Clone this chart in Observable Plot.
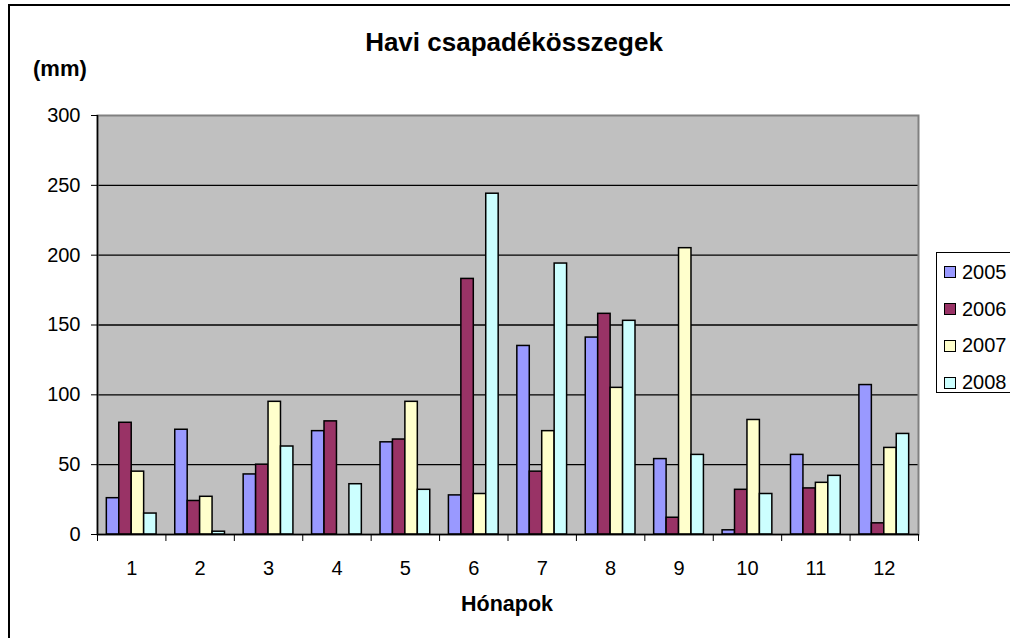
<!DOCTYPE html>
<html>
<head>
<meta charset="utf-8">
<script src="https://cdn.jsdelivr.net/npm/d3@7"></script>
<script src="https://cdn.jsdelivr.net/npm/@observablehq/plot@0.6"></script>
<style>
  html, body { margin: 0; padding: 0; background: #fff; }
  #wrap { position: relative; width: 1010px; height: 638px; overflow: hidden; background: #fff;
          font-family: "Liberation Sans", Arial, sans-serif; color: #000; }
  #border { position: absolute; left: 8px; top: 4px; width: 1100px; height: 700px;
            border-left: 2.5px solid #000; border-top: 2.5px solid #000; box-sizing: border-box; }
  #chart { position: absolute; left: 0; top: 0; }
  .lbl { position: absolute; white-space: nowrap; font-weight: bold; }
  #title { left: 314px; width: 400px; text-align: center; top: 28.5px; font-size: 26px; line-height: 26px; }
  #ylab { left: 33px; top: 57.5px; font-size: 22px; line-height: 22px; }
  #xlab { left: 307px; width: 400px; text-align: center; top: 593.5px; font-size: 21.5px; line-height: 21.5px; }
  #legend { position: absolute; left: 936px; top: 252px; width: 120px; height: 141px;
            border: 1px solid #000; box-sizing: border-box; background: #fff; padding-top: 1px; }
  .item { display: flex; align-items: center; height: 36.8px; font-size: 20px; }
  .sw { width: 12px; height: 12px; border: 1px solid #000; box-sizing: border-box; margin-left: 7px; margin-right: 6px; }
</style>
</head>
<body>
<div id="wrap">
  <div id="border"></div>
  <div id="chart"></div>
  <div class="lbl" id="title"></div>
  <div class="lbl" id="ylab"></div>
  <div class="lbl" id="xlab"></div>
  <div id="legend"></div>
</div>
<script>
// ---- data ----
const months = [1, 2, 3, 4, 5, 6, 7, 8, 9, 10, 11, 12];
const years = ["2005", "2006", "2007", "2008"];
const colors = ["#9999ff", "#993366", "#ffffcc", "#ccffff"];
const v2005 = [26, 75, 43, 74, 66, 28, 135, 141, 54, 3, 57, 107];
const v2006 = [80, 24, 50, 81, 68, 183, 45, 158, 12, 32, 33, 8];
const v2007 = [45, 27, 95, 0, 95, 29, 74, 105, 205, 82, 37, 62];
const v2008 = [15, 2, 63, 36, 32, 244, 194, 153, 57, 29, 42, 72];
const yTicks = [0, 50, 100, 150, 200, 250, 300];
const titleText = "Havi csapadékösszegek";
const yLabelText = "(mm)";
const xLabelText = "Hónapok";

const series = [v2005, v2006, v2007, v2008];
const gapWidth = 1.5; // Excel gap width 150% of a bar
const barW = 1 / (years.length + gapWidth);

const data = months.flatMap((m, mi) => years.map((yr, si) => {
  const x1 = m - 0.5 + barW * gapWidth / 2 + si * barW;
  return { month: m, year: yr, value: series[si][mi], x1, x2: x1 + barW };
})).filter(d => d.value > 0);

const boundaries = [months[0] - 0.5, ...months.map(m => m + 0.5)];
const gridTicks = yTicks.filter(t => t > 0 && t < 300);

const chart = Plot.plot({
  width: 1010,
  height: 638,
  marginLeft: 97,
  marginRight: 92,
  marginTop: 115,
  marginBottom: 104,
  x: { domain: [0.5, 12.5] },
  y: { domain: [0, 300] },
  color: { domain: years, range: colors },
  style: { fontFamily: '"Liberation Sans", Arial, sans-serif', fontSize: "20px", color: "#000", background: "transparent", overflow: "visible" },
  marks: [
    Plot.frame({ fill: "#c0c0c0" }),
    Plot.gridY(gridTicks, { stroke: "#000", strokeOpacity: 1, strokeWidth: 1.3 }),
    Plot.frame({ stroke: "#808080", strokeWidth: 2 }),
    Plot.rect(data, { x1: "x1", x2: "x2", y1: 0, y2: "value", fill: "year", stroke: "#000", strokeWidth: 1.5 }),
    Plot.ruleX([0.5], { stroke: "#000", strokeWidth: 1.5 }),
    Plot.ruleY([0], { stroke: "#000", strokeWidth: 1.5 }),
    Plot.axisY({ ticks: yTicks, tickSize: 6, tickPadding: 11, label: null, tickFormat: d => String(d) }),
    Plot.axisX({ ticks: boundaries, tickSize: 7, tickFormat: () => "", label: null }),
    Plot.axisX({ ticks: months, tickSize: 0, tickPadding: 26, label: null, tickFormat: d => String(d) })
  ]
});
document.getElementById("chart").appendChild(chart);
document.getElementById("title").textContent = titleText;
document.getElementById("ylab").textContent = yLabelText;
document.getElementById("xlab").textContent = xLabelText;

const legend = document.getElementById("legend");
years.forEach((yr, i) => {
  const row = document.createElement("div");
  row.className = "item";
  const sw = document.createElement("div");
  sw.className = "sw";
  sw.style.background = colors[i];
  const t = document.createElement("span");
  t.textContent = yr;
  row.appendChild(sw);
  row.appendChild(t);
  legend.appendChild(row);
});
</script>
</body>
</html>
